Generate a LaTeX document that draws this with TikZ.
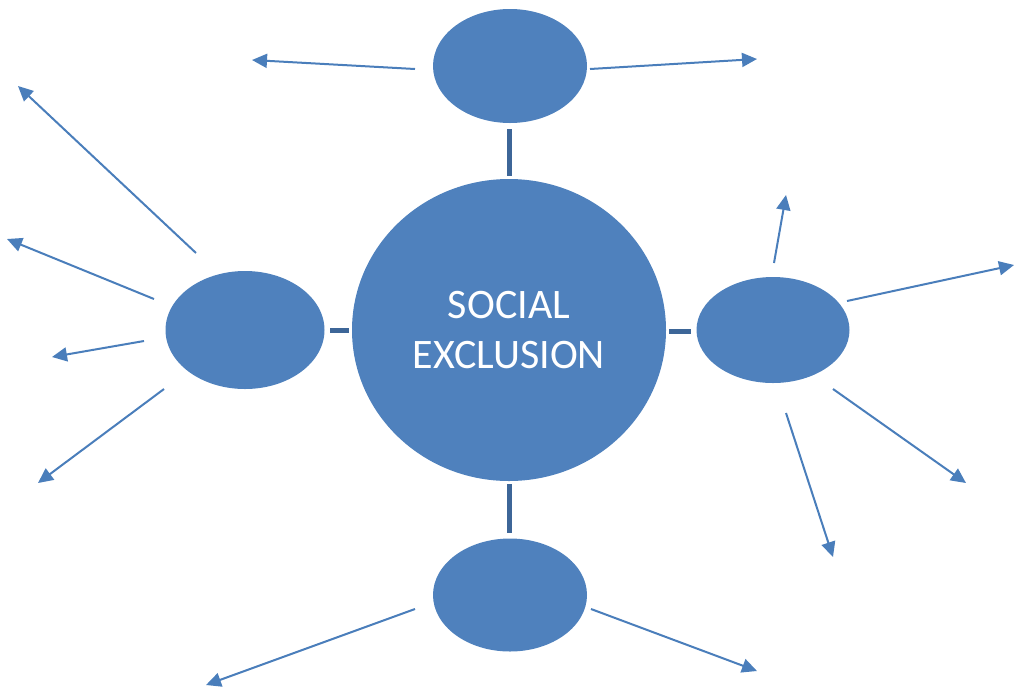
\documentclass[tikz,border=0pt]{standalone}
\usepackage{fontspec}
\setmainfont{Carlito}
\usetikzlibrary{shapes.geometric,arrows.meta}
\definecolor{blobblue}{HTML}{4F81BD}
\definecolor{linkblue}{HTML}{3D6698}
\definecolor{rayblue}{HTML}{4A7EBB}
\tikzset{
  blob/.style={ellipse, fill=blobblue, draw=none, inner sep=0pt},
  link/.style={draw=linkblue, line width=5pt},
  ray/.style={draw=rayblue, line width=2pt, -{Triangle[length=15pt,width=14pt]}}
}
\begin{document}
\begin{tikzpicture}[x=1pt,y=-1pt]
\useasboundingbox (0,0) rectangle (1014,689);
% nodes
\node[blob, minimum width=314pt, minimum height=302pt, text=white,
      font=\fontsize{42}{50}\selectfont, align=center] (core) at (509,330) {SOCIAL\\EXCLUSION};
\node[blob, minimum width=154pt, minimum height=114pt] (top) at (510,66) {};
\node[blob, minimum width=154pt, minimum height=113pt] (bot) at (510,595) {};
\node[blob, minimum width=159pt, minimum height=118pt] (lft) at (245,330) {};
\node[blob, minimum width=153pt, minimum height=106pt] (rgt) at (773,330) {};
% link end points
\coordinate (ta) at (509,129); \coordinate (tb) at (509,176);
\coordinate (ba) at (509,484); \coordinate (bb) at (509,533);
\coordinate (la) at (330,330); \coordinate (lb) at (349,330);
\coordinate (ra) at (669,331); \coordinate (rb) at (691,331);
\draw[link] (ta) -- (tb);
\draw[link] (ba) -- (bb);
\draw[link] (la) -- (lb);
\draw[link] (ra) -- (rb);
% rays: start / end
\coordinate (t1s) at (415,69);  \coordinate (t1e) at (252,60);
\coordinate (t2s) at (590,69);  \coordinate (t2e) at (757,59);
\coordinate (b1s) at (415,609); \coordinate (b1e) at (206,685);
\coordinate (b2s) at (591,609); \coordinate (b2e) at (757,671);
\coordinate (l1s) at (196,253); \coordinate (l1e) at (18,86);
\coordinate (l2s) at (154,299); \coordinate (l2e) at (7,239);
\coordinate (l3s) at (144,341); \coordinate (l3e) at (52,357);
\coordinate (l4s) at (164,389); \coordinate (l4e) at (38,483);
\coordinate (r1s) at (774,263); \coordinate (r1e) at (786,195);
\coordinate (r2s) at (847,301); \coordinate (r2e) at (1014,265);
\coordinate (r3s) at (833,389); \coordinate (r3e) at (966,483);
\coordinate (r4s) at (786,413); \coordinate (r4e) at (833,557);
\foreach \a in {t1,t2,b1,b2,l1,l2,l3,l4,r1,r2,r3,r4}
  \draw[ray] (\a s) -- (\a e);
\end{tikzpicture}
\end{document}
